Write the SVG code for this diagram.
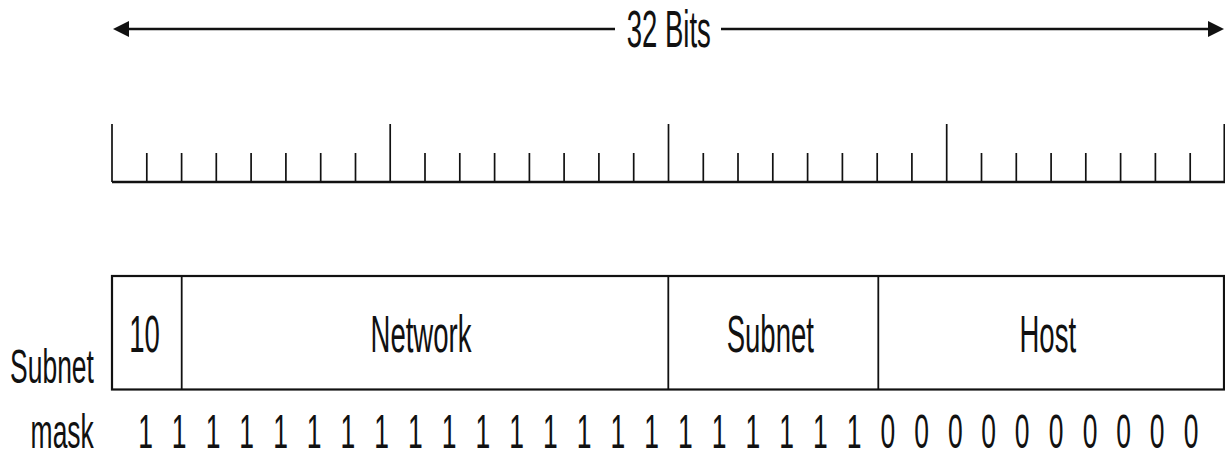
<svg xmlns="http://www.w3.org/2000/svg" width="1225" height="456" viewBox="0 0 1225 456">
  <style>
    .lbl { font-family: "Liberation Sans", Arial, sans-serif; font-size: 51px; fill: #111; text-anchor: middle; }
    .sm { font-size: 49px; }
    .ln { stroke: #111; fill: none; }
    .tick { stroke: #111; stroke-width: 1.7; fill: none; }
    .box { stroke: #111; stroke-width: 2.2; fill: #fff; }
    .div { stroke: #111; stroke-width: 1.8; }
  </style>
  <defs>
    <marker id="head" viewBox="0 0 16 16" refX="12" refY="8" markerWidth="16" markerHeight="16" markerUnits="userSpaceOnUse" orient="auto">
      <path d="M0,0 L16,8 L0,16 z" fill="#111"/>
    </marker>
  </defs>

  <rect width="1225" height="456" fill="#fff"/>

  <!-- 32-bit span arrow -->
  <g id="connectors">
    <line class="ln" x1="615" y1="29" x2="117" y2="29" stroke-width="2.5" marker-end="url(#head)"/>
    <line class="ln" x1="721" y1="29" x2="1220" y2="29" stroke-width="2.5" marker-end="url(#head)"/>
  </g>
  <g id="title">
    <text class="lbl" transform="translate(668.8,46.7) scale(0.54,1)">32 Bits</text>
  </g>

  <!-- bit ruler: one tick per bit, long ticks every 8 bits -->
  <g id="ruler">
    <line class="ln" x1="112" y1="182" x2="1225" y2="182" stroke-width="2.6"/>
    <path class="tick" d="M112,124V182 M390.2,124V182 M668.5,124V182 M946.7,124V182 M1224.3,124V182
      M146.8,153V182 M181.6,153V182 M216.3,153V182 M251.1,153V182 M285.9,153V182 M320.7,153V182 M355.5,153V182
      M425,153V182 M459.8,153V182 M494.6,153V182 M529.4,153V182 M564.1,153V182 M598.9,153V182 M633.7,153V182
      M703.3,153V182 M738,153V182 M772.8,153V182 M807.6,153V182 M842.4,153V182 M877.2,153V182 M911.9,153V182
      M981.5,153V182 M1016.3,153V182 M1051.1,153V182 M1085.8,153V182 M1120.6,153V182 M1155.4,153V182 M1190.2,153V182"/>
  </g>

  <!-- address fields -->
  <g id="fields">
    <rect class="box" x="112" y="276" width="1112" height="113.5"/>
  </g>
  <g id="field-class">
    <text class="lbl" transform="translate(144.5,351.7) scale(0.54,1)">10</text>
  </g>
  <g id="field-network">
    <line class="div" x1="181.7" y1="276" x2="181.7" y2="389.5"/>
    <text class="lbl" transform="translate(421,351.7) scale(0.54,1)">Network</text>
  </g>
  <g id="field-subnet">
    <line class="div" x1="668.3" y1="276" x2="668.3" y2="389.5"/>
    <text class="lbl" transform="translate(770.3,351.7) scale(0.54,1)">Subnet</text>
  </g>
  <g id="field-host">
    <line class="div" x1="878.3" y1="276" x2="878.3" y2="389.5"/>
    <text class="lbl" transform="translate(1047.8,351.7) scale(0.54,1)">Host</text>
  </g>

  <!-- subnet mask row -->
  <g id="mask-label">
    <text class="lbl sm" transform="translate(52,383.3) scale(0.54,1)">Subnet</text>
    <text class="lbl sm" transform="translate(62.2,448.3) scale(0.54,1)">mask</text>
  </g>
  <g id="mask-bits">
    <text class="lbl sm" transform="translate(145.5,448.3) scale(0.54,1)">1</text>
    <text class="lbl sm" transform="translate(179.2,448.3) scale(0.54,1)">1</text>
    <text class="lbl sm" transform="translate(213,448.3) scale(0.54,1)">1</text>
    <text class="lbl sm" transform="translate(246.7,448.3) scale(0.54,1)">1</text>
    <text class="lbl sm" transform="translate(280.5,448.3) scale(0.54,1)">1</text>
    <text class="lbl sm" transform="translate(314.2,448.3) scale(0.54,1)">1</text>
    <text class="lbl sm" transform="translate(347.9,448.3) scale(0.54,1)">1</text>
    <text class="lbl sm" transform="translate(381.7,448.3) scale(0.54,1)">1</text>
    <text class="lbl sm" transform="translate(415.4,448.3) scale(0.54,1)">1</text>
    <text class="lbl sm" transform="translate(449.2,448.3) scale(0.54,1)">1</text>
    <text class="lbl sm" transform="translate(482.9,448.3) scale(0.54,1)">1</text>
    <text class="lbl sm" transform="translate(516.6,448.3) scale(0.54,1)">1</text>
    <text class="lbl sm" transform="translate(550.4,448.3) scale(0.54,1)">1</text>
    <text class="lbl sm" transform="translate(584.1,448.3) scale(0.54,1)">1</text>
    <text class="lbl sm" transform="translate(617.9,448.3) scale(0.54,1)">1</text>
    <text class="lbl sm" transform="translate(651.6,448.3) scale(0.54,1)">1</text>
    <text class="lbl sm" transform="translate(685.3,448.3) scale(0.54,1)">1</text>
    <text class="lbl sm" transform="translate(719.1,448.3) scale(0.54,1)">1</text>
    <text class="lbl sm" transform="translate(752.8,448.3) scale(0.54,1)">1</text>
    <text class="lbl sm" transform="translate(786.6,448.3) scale(0.54,1)">1</text>
    <text class="lbl sm" transform="translate(820.3,448.3) scale(0.54,1)">1</text>
    <text class="lbl sm" transform="translate(854,448.3) scale(0.54,1)">1</text>
    <text class="lbl sm" transform="translate(887.8,448.3) scale(0.54,1)">0</text>
    <text class="lbl sm" transform="translate(921.5,448.3) scale(0.54,1)">0</text>
    <text class="lbl sm" transform="translate(955.3,448.3) scale(0.54,1)">0</text>
    <text class="lbl sm" transform="translate(988.5,448.3) scale(0.54,1)">0</text>
    <text class="lbl sm" transform="translate(1022.2,448.3) scale(0.54,1)">0</text>
    <text class="lbl sm" transform="translate(1056.2,448.3) scale(0.54,1)">0</text>
    <text class="lbl sm" transform="translate(1090,448.3) scale(0.54,1)">0</text>
    <text class="lbl sm" transform="translate(1123.5,448.3) scale(0.54,1)">0</text>
    <text class="lbl sm" transform="translate(1157.2,448.3) scale(0.54,1)">0</text>
    <text class="lbl sm" transform="translate(1191,448.3) scale(0.54,1)">0</text>
  </g>
</svg>
